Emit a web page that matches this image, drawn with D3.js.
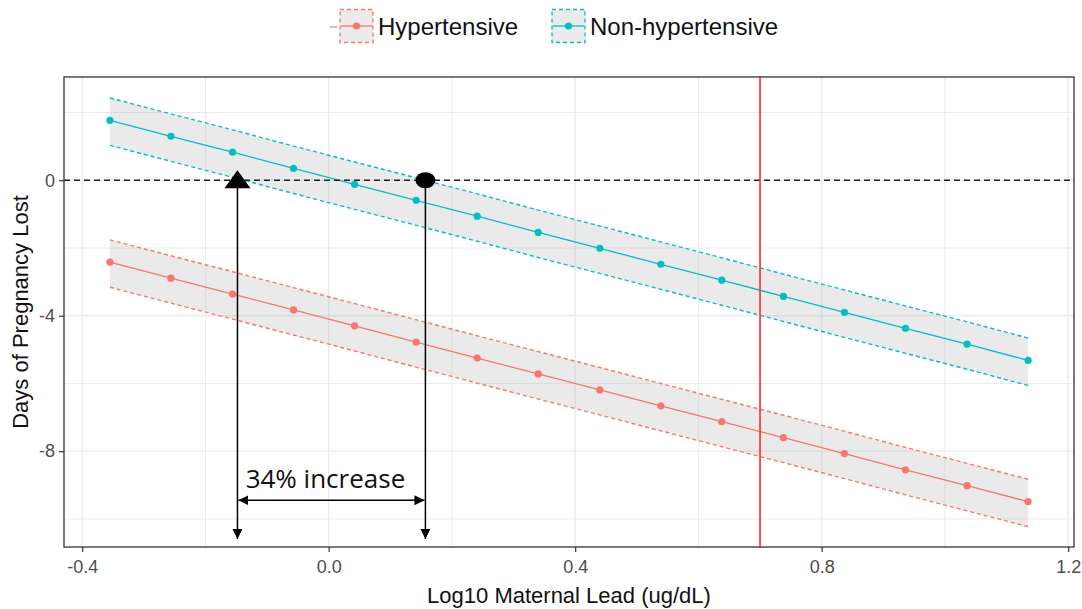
<!DOCTYPE html>
<html>
<head>
<meta charset="utf-8">
<script src="https://cdn.jsdelivr.net/npm/d3@7"></script>
<style>
  html, body { margin: 0; padding: 0; background: #fff; }
  svg { display: block; }
</style>
</head>
<body>
<svg id="chart" width="1082" height="609"></svg>
<script>
// ---- Data ----
const xVals = [-0.355, -0.256, -0.156, -0.057, 0.042, 0.142, 0.241, 0.340, 0.440, 0.539, 0.638, 0.738, 0.837, 0.936, 1.036, 1.135];

const nonHypMean  = [1.77, 1.30, 0.83, 0.35, -0.12, -0.59, -1.06, -1.54, -2.01, -2.48, -2.95, -3.43, -3.90, -4.37, -4.84, -5.32];
const nonHypUpper = [2.43, 1.96, 1.49, 1.01, 0.54, 0.07, -0.40, -0.88, -1.35, -1.82, -2.29, -2.77, -3.24, -3.71, -4.18, -4.66];
const nonHypLower = [1.03, 0.56, 0.09, -0.39, -0.86, -1.33, -1.80, -2.28, -2.75, -3.22, -3.69, -4.17, -4.64, -5.11, -5.58, -6.06];

const hypMean  = [-2.42, -2.89, -3.36, -3.83, -4.30, -4.78, -5.25, -5.72, -6.19, -6.66, -7.13, -7.60, -8.07, -8.55, -9.02, -9.49];
const hypUpper = [-1.76, -2.23, -2.70, -3.17, -3.64, -4.12, -4.59, -5.06, -5.53, -6.00, -6.47, -6.94, -7.41, -7.89, -8.36, -8.83];
const hypLower = [-3.16, -3.63, -4.10, -4.57, -5.04, -5.52, -5.99, -6.46, -6.93, -7.40, -7.87, -8.34, -8.81, -9.29, -9.76, -10.23];

const seriesNames = ["Hypertensive", "Non-hypertensive"];
const xTickVals = [-0.4, 0.0, 0.4, 0.8, 1.2];
const xTickLabels = ["-0.4", "0.0", "0.4", "0.8", "1.2"];
const xMinorVals = [-0.2, 0.2, 0.6, 1.0];
const yTickVals = [-8, -4, 0];
const yTickLabels = ["-8", "-4", "0"];
const yMinorVals = [-10, -6, -2, 2];

const refLineX = 0.7;
const refLineY = 0;
const triangleX = -0.148, circleX = 0.157;  // annotation markers on y = 0
const annotationText = "34% increase";
const annotationArrowY = -9.45;

const xTitle = "Log10 Maternal Lead (ug/dL)";
const yTitle = "Days of Pregnancy Lost";

// ---- Layout ----
const colors = { "Hypertensive": "#F8766D", "Non-hypertensive": "#00BFC4" };
const panel = { left: 64, right: 1074, top: 77, bottom: 547 };

const svg = d3.select("#chart");
const x = d3.scaleLinear().domain([-0.4295, 1.2095]).range([panel.left, panel.right]);
const y = d3.scaleLinear().domain([-10.83, 3.05]).range([panel.bottom, panel.top]);

// grid
const grid = svg.append("g");
xMinorVals.concat(xTickVals).forEach(v => {
  grid.append("line").attr("x1", x(v)).attr("x2", x(v)).attr("y1", panel.top).attr("y2", panel.bottom)
    .attr("stroke", "#ebebeb").attr("stroke-width", xTickVals.includes(v) ? 1.4 : 1);
});
yMinorVals.concat(yTickVals).forEach(v => {
  grid.append("line").attr("x1", panel.left).attr("x2", panel.right).attr("y1", y(v)).attr("y2", y(v))
    .attr("stroke", "#ebebeb").attr("stroke-width", yTickVals.includes(v) ? 1.4 : 1);
});

// series
const series = [
  { name: "Hypertensive", mean: hypMean, upper: hypUpper, lower: hypLower },
  { name: "Non-hypertensive", mean: nonHypMean, upper: nonHypUpper, lower: nonHypLower }
];

const area = d3.area().x(d => x(d.x)).y0(d => y(d.lo)).y1(d => y(d.hi));
const line = d3.line().x(d => x(d[0])).y(d => y(d[1]));

series.forEach(s => {
  const rows = xVals.map((xv, i) => ({ x: xv, lo: s.lower[i], hi: s.upper[i] }));
  svg.append("path").attr("d", area(rows)).attr("fill", "#b3b3b3").attr("fill-opacity", 0.28);
});

series.forEach(s => {
  const c = colors[s.name];
  const g = svg.append("g");
  g.append("path").attr("d", line(xVals.map((xv, i) => [xv, s.upper[i]])))
    .attr("fill", "none").attr("stroke", c).attr("stroke-width", 1.4).attr("stroke-dasharray", "4,3");
  g.append("path").attr("d", line(xVals.map((xv, i) => [xv, s.lower[i]])))
    .attr("fill", "none").attr("stroke", c).attr("stroke-width", 1.4).attr("stroke-dasharray", "4,3");
  g.append("path").attr("d", line(xVals.map((xv, i) => [xv, s.mean[i]])))
    .attr("fill", "none").attr("stroke", c).attr("stroke-width", 1.3);
  g.selectAll("circle").data(xVals.map((xv, i) => [xv, s.mean[i]])).enter().append("circle")
    .attr("cx", d => x(d[0])).attr("cy", d => y(d[1])).attr("r", 3.6).attr("fill", c);
});

// reference lines
svg.append("line").attr("x1", panel.left).attr("x2", panel.right).attr("y1", y(refLineY)).attr("y2", y(refLineY))
  .attr("stroke", "#222").attr("stroke-width", 1.4).attr("stroke-dasharray", "6,4");
svg.append("line").attr("x1", x(refLineX)).attr("x2", x(refLineX)).attr("y1", panel.top).attr("y2", panel.bottom)
  .attr("stroke", "#ff2a2a").attr("stroke-width", 1.6);

// annotations
const defs = svg.append("defs");
defs.append("marker").attr("id", "ah").attr("viewBox", "0 0 10 10").attr("refX", 10).attr("refY", 5)
  .attr("markerWidth", 10).attr("markerHeight", 10).attr("markerUnits", "userSpaceOnUse").attr("orient", "auto-start-reverse")
  .append("path").attr("d", "M0,0 L10,5 L0,10 Z").attr("fill", "#000");

const y0 = y(refLineY);
const tx = x(triangleX), cx = x(circleX);
const bottomTip = panel.bottom - 8;
svg.append("line").attr("x1", tx).attr("x2", tx).attr("y1", y0 + 6).attr("y2", bottomTip)
  .attr("stroke", "#000").attr("stroke-width", 1.5).attr("marker-end", "url(#ah)");
svg.append("line").attr("x1", cx).attr("x2", cx).attr("y1", y0 + 6).attr("y2", bottomTip)
  .attr("stroke", "#000").attr("stroke-width", 1.5).attr("marker-end", "url(#ah)");
svg.append("path").attr("d", `M${tx - 13},${y0 + 8} L${tx + 13},${y0 + 8} L${tx},${y0 - 10} Z`).attr("fill", "#000");
svg.append("ellipse").attr("cx", cx).attr("cy", y0).attr("rx", 10).attr("ry", 8).attr("fill", "#000");
const ay = y(annotationArrowY);
svg.append("line").attr("x1", tx + 1).attr("x2", cx - 1).attr("y1", ay).attr("y2", ay)
  .attr("stroke", "#000").attr("stroke-width", 1.5).attr("marker-start", "url(#ah)").attr("marker-end", "url(#ah)");
svg.append("text").attr("x", (tx + cx) / 2 - 6).attr("y", ay - 12).attr("text-anchor", "middle")
  .attr("font-family", "'Open Sans', sans-serif").attr("font-size", 26).attr("fill", "#111").text(annotationText);

// panel border
svg.append("rect").attr("x", panel.left).attr("y", panel.top).attr("width", panel.right - panel.left)
  .attr("height", panel.bottom - panel.top).attr("fill", "none").attr("stroke", "#333").attr("stroke-width", 1.3);

// axes
const xAxis = d3.axisBottom(x).tickValues(xTickVals).tickFormat((d, i) => xTickLabels[i]).tickSize(5).tickPadding(8);
const gx = svg.append("g").attr("transform", `translate(0,${panel.bottom})`).call(xAxis);
gx.select(".domain").remove();
gx.selectAll(".tick line").attr("stroke", "#333").attr("stroke-width", 1.2);
gx.selectAll(".tick text").attr("font-family", "'Liberation Sans', Arial, sans-serif").attr("font-size", 18).attr("fill", "#4d4d4d");

const yAxis = d3.axisLeft(y).tickValues(yTickVals).tickFormat((d, i) => yTickLabels[i]).tickSize(5).tickPadding(4);
const gy = svg.append("g").attr("transform", `translate(${panel.left},0)`).call(yAxis);
gy.select(".domain").remove();
gy.selectAll(".tick line").attr("stroke", "#333").attr("stroke-width", 1.2);
gy.selectAll(".tick text").attr("font-family", "'Liberation Sans', Arial, sans-serif").attr("font-size", 18).attr("fill", "#4d4d4d");

// titles
svg.append("text").attr("x", (panel.left + panel.right) / 2).attr("y", 603).attr("text-anchor", "middle")
  .attr("font-family", "'Liberation Sans', Arial, sans-serif").attr("font-size", 22).attr("fill", "#111").text(xTitle);
svg.append("text").attr("transform", `translate(28,${(panel.top + panel.bottom) / 2}) rotate(-90)`).attr("text-anchor", "middle")
  .attr("font-family", "'Liberation Sans', Arial, sans-serif").attr("font-size", 22).attr("fill", "#111").text(yTitle);

// legend
svg.append("line").attr("x1", 330).attr("x2", 337).attr("y1", 27).attr("y2", 27).attr("stroke", "#9d8cf0").attr("stroke-width", 1.2);
const legendItems = [
  { name: seriesNames[0], boxX: 340, textX: 378 },
  { name: seriesNames[1], boxX: 552, textX: 590 }
];
legendItems.forEach(it => {
  const c = colors[it.name];
  const g = svg.append("g");
  g.append("rect").attr("x", it.boxX).attr("y", 9.5).attr("width", 33).attr("height", 33)
    .attr("fill", "#ebebeb").attr("stroke", c).attr("stroke-width", 1.3).attr("stroke-dasharray", "4,3");
  g.append("line").attr("x1", it.boxX + 1).attr("x2", it.boxX + 32).attr("y1", 26).attr("y2", 26)
    .attr("stroke", c).attr("stroke-width", 1.3);
  g.append("circle").attr("cx", it.boxX + 16.5).attr("cy", 26).attr("r", 3.6).attr("fill", c);
  g.append("text").attr("x", it.textX).attr("y", 35).attr("font-family", "'Liberation Sans', Arial, sans-serif")
    .attr("font-size", 24).attr("fill", "#111").text(it.name);
});
</script>
</body>
</html>
